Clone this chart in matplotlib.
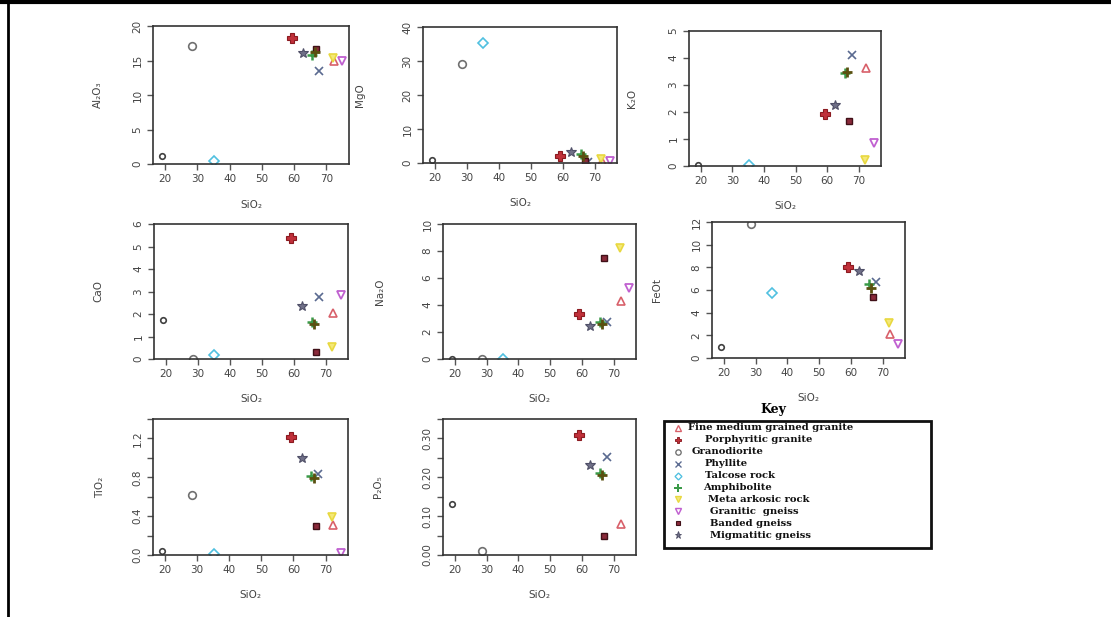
import numpy as np
import matplotlib
matplotlib.use("Agg")
import matplotlib.pyplot as plt
from matplotlib.patches import Rectangle

nan = np.nan

# samples: 10 named rock types + 2 unlabelled analyses
rock_names = ["Fine medium grained granite", "Porphyritic granite", "Granodiorite",
              "Phyllite", "Talcose rock", "Amphibolite", "Meta arkosic rock",
              "Granitic  gneiss", "Banded gneiss", "Migmatitic gneiss", None, None]

sio2 = [72.3, 59.2, 28.5, 67.8, 35.2, 65.6, 72.0, 74.7, 66.9, 62.6, 19.0, 66.4]
al2o3 = [15.0, 18.3, 17.1, 13.5, 0.5, 15.8, 15.3, 15.0, 16.6, 16.1, 1.2, 16.2]
mgo = [0.7, 2.2, 29.2, 0.4, 35.2, 2.6, 1.2, 0.5, 0.5, 3.3, 1.0, 2.1]
k2o = [3.64, 1.92, nan, 4.10, 0.05, 3.44, 0.22, 0.85, 1.68, 2.27, 0.02, 3.47]
cao = [2.03, 5.39, 0.02, 2.77, 0.18, 1.66, 0.55, 2.84, 0.33, 2.36, 1.73, 1.54]
na2o = [4.30, 3.31, 0.0, 2.77, 0.02, 2.72, 8.2, 5.23, 7.5, 2.47, 0.0, 2.57]
feot = [2.16, 8.0, 11.85, 6.73, 5.75, 6.5, 3.07, 1.23, 5.38, 7.66, 0.94, 6.14]
tio2 = [0.31, 1.21, 0.62, 0.83, 0.01, 0.81, 0.39, 0.02, 0.30, 1.0, 0.04, 0.79]
p2o5 = [0.079, 0.31, 0.01, 0.252, nan, 0.21, nan, nan, 0.05, 0.231, 0.131, 0.205]

# marker styles per sample
styles = [
    dict(marker='^', mfc='none', mec='#d8606a', ms=6, mew=1.2),
    dict(marker='P', mfc='#c0303a', mec='#8b1a20', ms=6.5, mew=0.8),
    dict(marker='o', mfc='none', mec='#707070', ms=5.5, mew=1.2),
    dict(marker='x', mfc='none', mec='#5a6a90', ms=5.5, mew=1.2),
    dict(marker='D', mfc='none', mec='#50c0e0', ms=5, mew=1.2),
    dict(marker='+', mfc='none', mec='#3a9a48', ms=7.5, mew=1.8),
    dict(marker='v', mfc='#f4e878', mec='#e8d840', ms=6, mew=1.2),
    dict(marker='v', mfc='none', mec='#c060d0', ms=6, mew=1.3),
    dict(marker='s', mfc='#8a2a3a', mec='#401018', ms=5, mew=1.0),
    dict(marker='*', mfc='#707088', mec='#505068', ms=7.5, mew=0.8),
    dict(marker='o', mfc='none', mec='#404040', ms=4, mew=1.2),
    dict(marker='+', mfc='none', mec='#5a5010', ms=7.5, mew=2.0),
]

W, H = 1111, 617
fig = plt.figure(figsize=(W / 100, H / 100), dpi=100)

# (values, label, box in px, ylim, ticks, labelled ticks, fmt, ylabel x offset)
panels = [
    (al2o3, "Al\u2082O\u2083", (153, 26, 349, 164), (0, 20), np.arange(0, 21, 5), None, "{:.0f}", -0.255),
    (mgo, "MgO", (423, 27, 617, 163), (0, 40), np.arange(0, 41, 10), None, "{:.0f}", -0.30),
    (k2o, "K\u2082O", (689, 31, 881, 166), (0, 5), np.arange(0, 6, 1), None, "{:.0f}", -0.27),
    (cao, "CaO", (154, 224, 348, 359), (0, 6), np.arange(0, 7, 1), None, "{:.0f}", -0.26),
    (na2o, "Na\u2082O", (443, 224, 636, 359), (0, 10), np.arange(0, 11, 2), None, "{:.0f}", -0.30),
    (feot, "FeOt", (712, 222, 905, 358), (0, 12), np.arange(0, 13, 2), None, "{:.0f}", -0.26),
    (tio2, "TiO\u2082", (153, 419, 348, 555), (0, 1.4), np.arange(0, 1.41, 0.2), [0, 2, 4, 6], "{:.1f}", -0.245),
    (p2o5, "P\u2082O\u2085", (443, 419, 636, 555), (0, 0.35), np.arange(0, 0.351, 0.05), [0, 2, 4, 6], "{:.2f}", -0.31),
]

for vals, lab, box, ylim, ticks, shown, fmt, lx in panels:
    x0, y0, x1, y1 = box
    ax = fig.add_axes([x0 / W, 1 - y1 / H, (x1 - x0) / W, (y1 - y0) / H])
    for i in range(len(sio2)):
        ax.plot(sio2[i], vals[i], ls='none', **styles[i])
    ax.set_xlim(16.3, 77)
    ax.set_ylim(*ylim)
    ax.set_xticks(np.arange(20, 71, 10))
    ax.set_yticks(ticks)
    ylabels = [fmt.format(t) if (shown is None or k in shown) else "" for k, t in enumerate(ticks)]
    ax.set_yticklabels(ylabels, rotation=90, va='center')
    ax.tick_params(direction='out', length=4, width=1, colors='#555555', labelsize=7.5,
                   labelcolor='#444444')
    for s in ax.spines.values():
        s.set_color('#333333')
        s.set_linewidth(1.2)
    ax.set_xlabel("SiO\u2082", fontsize=7.5, color='#444444')
    ax.xaxis.set_label_coords(0.5, -0.26)
    ax.set_ylabel(lab, fontsize=7.5, color='#444444')
    ax.yaxis.set_label_coords(lx, 0.5)

# overlay in pixel coordinates for the key and the page borders
ov = fig.add_axes([0, 0, 1, 1])
ov.set_xlim(0, W)
ov.set_ylim(H, 0)
ov.set_axis_off()

ov.plot([0, W], [1.5, 1.5], color='black', lw=3)
ov.plot([8, 8], [0, H], color='black', lw=2)

ov.add_patch(Rectangle((664, 421), 267, 127, fill=False, ec='#111111', lw=2))
ov.text(773, 410, "Key", ha='center', va='center', fontsize=9, fontweight='bold',
        family='DejaVu Serif')

key_text_x = [688, 705, 692, 705, 705, 703, 708, 710, 710, 710]
k = 0
for i, name in enumerate(rock_names):
    if name is None:
        continue
    row_y = 428 + 11.9 * k
    st = dict(styles[i])
    st['ms'] = st['ms'] * 0.7
    st['mew'] = st['mew'] * 0.8
    ov.plot(678, row_y, ls='none', **st)
    ov.text(key_text_x[k], row_y, name, ha='left', va='center', fontsize=7.2,
            fontweight='bold', family='DejaVu Serif', color='#111111')
    k += 1

fig.savefig("out.png", dpi=100, facecolor='white')
